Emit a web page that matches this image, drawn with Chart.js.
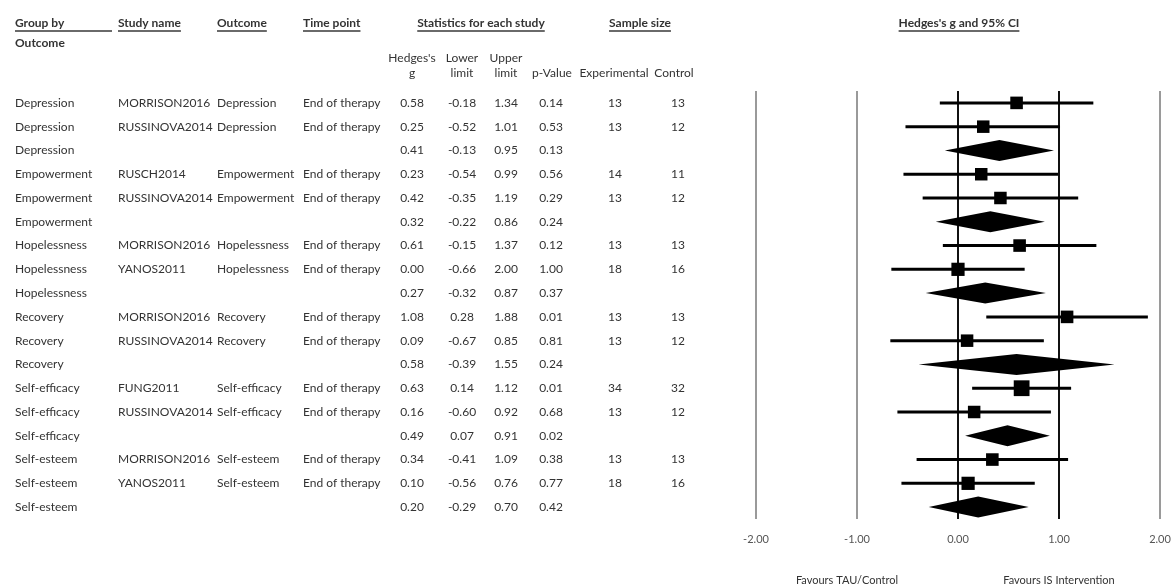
<!DOCTYPE html>
<html>
<head>
<meta charset="utf-8">
<script src="https://cdn.jsdelivr.net/npm/chart.js@4.4.1/dist/chart.umd.min.js"></script>
<style>
  html, body { margin: 0; padding: 0; background: #ffffff; }
  #wrap { width: 1173px; height: 587px; position: relative; }
</style>
</head>
<body>
<div id="wrap"><canvas id="c" width="1173" height="587"></canvas></div>
<script>
// ---- Data ----
const groups = ["Depression","Depression","Depression","Empowerment","Empowerment","Empowerment","Hopelessness","Hopelessness","Hopelessness","Recovery","Recovery","Recovery","Self-efficacy","Self-efficacy","Self-efficacy","Self-esteem","Self-esteem","Self-esteem"];
const studies = ["MORRISON2016","RUSSINOVA2014","","RUSCH2014","RUSSINOVA2014","","MORRISON2016","YANOS2011","","MORRISON2016","RUSSINOVA2014","","FUNG2011","RUSSINOVA2014","","MORRISON2016","YANOS2011",""];
const outcomes = ["Depression","Depression","","Empowerment","Empowerment","","Hopelessness","Hopelessness","","Recovery","Recovery","","Self-efficacy","Self-efficacy","","Self-esteem","Self-esteem",""];
const timePoints = ["End of therapy","End of therapy","","End of therapy","End of therapy","","End of therapy","End of therapy","","End of therapy","End of therapy","","End of therapy","End of therapy","","End of therapy","End of therapy",""];
const hedgesG = [0.58,0.25,0.41,0.23,0.42,0.32,0.61,0.00,0.27,1.08,0.09,0.58,0.63,0.16,0.49,0.34,0.10,0.20];
const lowerLimit = [-0.18,-0.52,-0.13,-0.54,-0.35,-0.22,-0.15,-0.66,-0.32,0.28,-0.67,-0.39,0.14,-0.60,0.07,-0.41,-0.56,-0.29];
const upperLimit = [1.34,1.01,0.95,0.99,1.19,0.86,1.37,0.66,0.87,1.88,0.85,1.55,1.12,0.92,0.91,1.09,0.76,0.70];
// printed upper-limit column (the reference prints "2.00" for YANOS2011 Hopelessness)
const upperLimitPrinted = ["1.34","1.01","0.95","0.99","1.19","0.86","1.37","2.00","0.87","1.88","0.85","1.55","1.12","0.92","0.91","1.09","0.76","0.70"];
const pValues = [0.14,0.53,0.13,0.56,0.29,0.24,0.12,1.00,0.37,0.01,0.81,0.24,0.01,0.68,0.02,0.38,0.77,0.42];
const nExperimental = [13,13,null,14,13,null,13,18,null,13,13,null,34,13,null,13,18,null];
const nControl = [13,12,null,11,12,null,13,16,null,13,12,null,32,12,null,13,16,null];
const xTicks = [-2, -1, 0, 1, 2];
const favourLabels = ["Favours TAU/Control", "Favours IS Intervention"];

const isSummary = studies.map(s => s === "");
const rowIdx = hedgesG.map((_, i) => i + 1);

const studyPoints = [];
const summaryRows = [];
hedgesG.forEach((g, i) => {
  if (isSummary[i]) summaryRows.push(i);
  else studyPoints.push({ x: g, y: rowIdx[i], n: nExperimental[i] + nControl[i] });
});

const FONT = "Lato, 'Open Sans', sans-serif";
const TXT = "#333333";

const forestPlugin = {
  id: "forest",
  beforeDatasetsDraw(chart) {
    const { ctx, scales: { x, y } } = chart;
    ctx.save();
    ctx.strokeStyle = "#000";
    ctx.lineWidth = 3;
    hedgesG.forEach((g, i) => {
      if (isSummary[i]) return;
      const py = y.getPixelForValue(rowIdx[i]);
      ctx.beginPath();
      ctx.moveTo(x.getPixelForValue(lowerLimit[i]), py);
      ctx.lineTo(x.getPixelForValue(upperLimit[i]), py);
      ctx.stroke();
    });
    ctx.fillStyle = "#000";
    summaryRows.forEach(i => {
      const py = y.getPixelForValue(rowIdx[i]);
      const h = 10.5;
      ctx.beginPath();
      ctx.moveTo(x.getPixelForValue(lowerLimit[i]), py);
      ctx.lineTo(x.getPixelForValue(hedgesG[i]), py - h);
      ctx.lineTo(x.getPixelForValue(upperLimit[i]), py);
      ctx.lineTo(x.getPixelForValue(hedgesG[i]), py + h);
      ctx.closePath();
      ctx.fill();
    });
    ctx.restore();
  },
  afterDraw(chart) {
    const { ctx, scales: { y } } = chart;
    ctx.save();
    ctx.fillStyle = TXT;
    ctx.textBaseline = "middle";

    function txt(s, px, py, align, bold, size) {
      ctx.font = (bold ? "bold " : "") + (size || 12) + "px " + FONT;
      ctx.textAlign = align;
      ctx.fillText(s, px, py);
      return ctx.measureText(s).width;
    }
    function underline(x0, x1, py) {
      ctx.save();
      ctx.strokeStyle = "#6a6a6a";
      ctx.lineWidth = 2;
      ctx.beginPath();
      ctx.moveTo(x0, py);
      ctx.lineTo(x1, py);
      ctx.stroke();
      ctx.restore();
    }
    const hy = 23, uy = 31;
    txt("Group by", 15, hy, "left", true);
    underline(15, 112, uy);
    let w = txt("Study name", 118, hy, "left", true); underline(118, 118 + w, uy);
    w = txt("Outcome", 217, hy, "left", true); underline(217, 217 + w, uy);
    w = txt("Time point", 303, hy, "left", true); underline(303, 303 + w, uy);
    w = txt("Statistics for each study", 481, hy, "center", true); underline(481 - w / 2, 481 + w / 2, uy);
    w = txt("Sample size", 640, hy, "center", true); underline(640 - w / 2, 640 + w / 2, uy);
    w = txt("Hedges's g and 95% CI", 959, hy, "center", true); underline(959 - w / 2, 959 + w / 2, uy);
    txt("Outcome", 15, 43, "left", true);

    const colG = 412, colL = 462, colU = 506, colP = 551, colE = 615, colC = 678;
    txt("Hedges's", colG, 58, "center");
    txt("Lower", colL, 58, "center");
    txt("Upper", colU, 58, "center");
    txt("g", colG, 73, "center");
    txt("limit", colL, 73, "center");
    txt("limit", colU, 73, "center");
    txt("p-Value", 552, 73, "center");
    txt("Experimental", 614, 73, "center");
    txt("Control", 674, 73, "center");

    hedgesG.forEach((g, i) => {
      const py = y.getPixelForValue(rowIdx[i]);
      txt(groups[i], 15, py, "left");
      if (studies[i]) txt(studies[i], 118, py, "left");
      if (outcomes[i]) txt(outcomes[i], 217, py, "left");
      if (timePoints[i]) txt(timePoints[i], 303, py, "left");
      txt(g.toFixed(2), colG, py, "center");
      txt(lowerLimit[i].toFixed(2), colL, py, "center");
      txt(upperLimitPrinted[i], colU, py, "center");
      txt(pValues[i].toFixed(2), colP, py, "center");
      if (nExperimental[i] !== null) txt(String(nExperimental[i]), colE, py, "center");
      if (nControl[i] !== null) txt(String(nControl[i]), colC, py, "center");
    });

    txt(favourLabels[0], 847, 580, "center", false, 11);
    txt(favourLabels[1], 1059, 580, "center", false, 11);
    ctx.restore();
  }
};

new Chart(document.getElementById("c"), {
  type: "scatter",
  data: {
    datasets: [{
      data: studyPoints,
      pointStyle: "rect",
      backgroundColor: "#000",
      borderColor: "#000",
      borderWidth: 0,
      pointRadius: (c) => {
        const p = c.raw;
        if (!p) return 8;
        const side = 10.5 + 0.08 * p.n;
        return side / Math.SQRT2;
      }
    }]
  },
  options: {
    responsive: false,
    devicePixelRatio: 1,
    animation: false,
    layout: { padding: { left: 756, right: 13, top: 91, bottom: 40 } },
    plugins: { legend: { display: false }, tooltip: { enabled: false } },
    scales: {
      x: {
        type: "linear",
        min: xTicks[0],
        max: xTicks[xTicks.length - 1],
        afterBuildTicks: (s) => { s.ticks = xTicks.map(v => ({ value: v })); },
        afterFit: (s) => { s.height = 28; s.paddingLeft = 0; s.paddingRight = 0; },
        border: { display: false },
        grid: {
          drawTicks: false,
          lineWidth: 2,
          color: (c) => (c.tick && (c.tick.value === 0 || c.tick.value === 1)) ? "#111" : "#9a9a9a"
        },
        ticks: {
          padding: 14,
          color: "#555",
          maxRotation: 0,
          font: { family: FONT, size: 11 },
          callback: (v) => Number(v).toFixed(2)
        }
      },
      y: {
        type: "linear",
        reverse: true,
        min: 0.5,
        max: 18.5,
        display: false
      }
    }
  },
  plugins: [forestPlugin]
});
</script>
</body>
</html>
